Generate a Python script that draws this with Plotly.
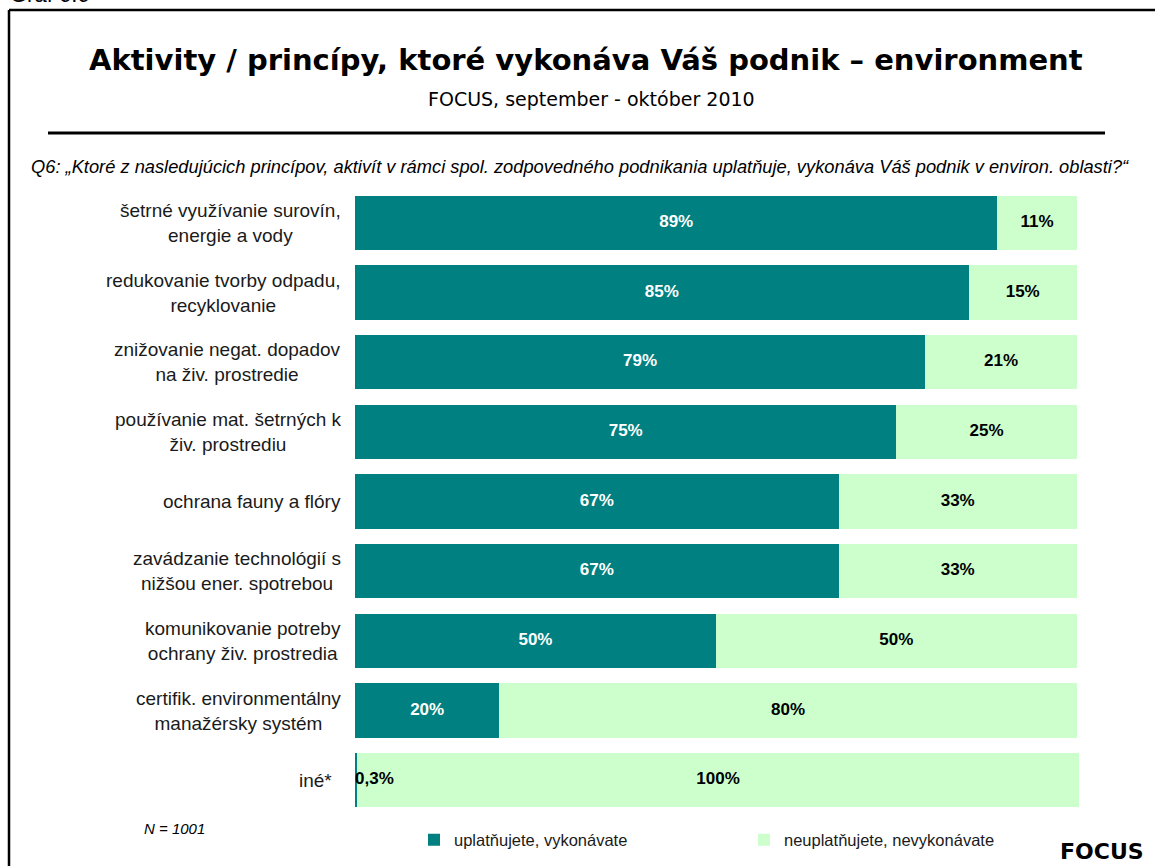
import plotly.graph_objects as go

categories = [
    "šetrné využívanie surovín,<br>energie a vody",
    "redukovanie tvorby odpadu,<br>recyklovanie",
    "znižovanie negat. dopadov<br>na živ. prostredie",
    "používanie mat. šetrných k<br>živ. prostrediu",
    "ochrana fauny a flóry",
    "zavádzanie technológií s<br>nižšou ener. spotrebou",
    "komunikovanie potreby<br>ochrany živ. prostredia",
    "certifik. environmentálny<br>manažérsky systém",
    "iné*",
]
yes_vals = [89, 85, 79, 75, 67, 67, 50, 20, 0.3]
no_vals = [11, 15, 21, 25, 33, 33, 50, 80, 100]
yes_labels = ["89%", "85%", "79%", "75%", "67%", "67%", "50%", "20%", "0,3%"]
no_labels = ["11%", "15%", "21%", "25%", "33%", "33%", "50%", "80%", "100%"]
series_names = ["uplatňujete, vykonávate", "neuplatňujete, nevykonávate"]

TEAL = "#008080"
LIGHT = "#CCFFCC"
W, H = 1155, 866
L, R = 355, 1079
T, B = 188, 815

def px_x(p):
    return (p - L) / (R - L)

def px_y(p):
    return (B - p) / (B - T)

fig = go.Figure()
fig.add_trace(go.Bar(y=categories, x=yes_vals, orientation="h", name=series_names[0],
                     marker=dict(color=TEAL, line=dict(width=0)), width=0.78, hoverinfo="x+y"))
fig.add_trace(go.Bar(y=categories, x=no_vals, orientation="h", name=series_names[1],
                     marker=dict(color=LIGHT, line=dict(width=0)), width=0.78, hoverinfo="x+y"))

# value labels
yes_x, yes_pos = [], []
for v in yes_vals:
    if v < 3:
        yes_x.append(0)
        yes_pos.append("middle right")
    else:
        yes_x.append(v / 2)
        yes_pos.append("middle center")
yes_colors = ["white" if v >= 3 else "black" for v in yes_vals]
fig.add_trace(go.Scatter(y=categories, x=yes_x, mode="text",
                         text=["<b>" + t + "</b>" for t in yes_labels],
                         textposition=yes_pos, showlegend=False, hoverinfo="skip",
                         textfont=dict(family="Liberation Sans", size=17, color=yes_colors),
                         cliponaxis=False))
no_x = [y + n / 2 for y, n in zip(yes_vals, no_vals)]
fig.add_trace(go.Scatter(y=categories, x=no_x, mode="text",
                         text=["<b>" + t + "</b>" for t in no_labels],
                         textposition="middle center", showlegend=False, hoverinfo="skip",
                         textfont=dict(family="Liberation Sans", size=17, color="black"),
                         cliponaxis=False))

annotations = []
for c in categories:
    annotations.append(dict(xref="paper", yref="y", x=0, y=c, xanchor="right",
                            xshift=-21 if c == "iné*" else -12,
                            text=c, showarrow=False, align="center",
                            font=dict(family="Liberation Sans", size=19, color="#1a1a1a")))

annotations += [
    dict(xref="paper", yref="paper", x=px_x(586), y=px_y(60), xanchor="center", yanchor="middle",
         text="<b>Aktivity / princípy, ktoré vykonáva Váš podnik – environment</b>", showarrow=False,
         font=dict(family="DejaVu Sans", size=29, color="black")),
    dict(xref="paper", yref="paper", x=px_x(591), y=px_y(99), xanchor="center", yanchor="middle",
         text="FOCUS, september - október 2010", showarrow=False,
         font=dict(family="DejaVu Sans", size=19, color="black")),
    dict(xref="paper", yref="paper", x=px_x(29), y=px_y(167), xanchor="left", yanchor="middle",
         text="<i>Q6: „Ktoré z nasledujúcich princípov, aktivít v rámci spol. zodpovedného podnikania uplatňuje, vykonáva Váš podnik v environ. oblasti?“</i>",
         showarrow=False, font=dict(family="Liberation Sans", size=18.3, color="black")),
    dict(xref="paper", yref="paper", x=px_x(142), y=px_y(828), xanchor="left", yanchor="middle",
         text="<i>N = 1001</i>", showarrow=False,
         font=dict(family="Liberation Sans", size=15, color="black")),
    dict(xref="paper", yref="paper", x=px_x(1146), y=px_y(852), xanchor="right", yanchor="middle",
         text="<b>FOCUS</b>", showarrow=False,
         font=dict(family="DejaVu Sans", size=22, color="black")),
    dict(xref="paper", yref="paper", x=px_x(8), y=px_y(9), xanchor="left", yanchor="bottom",
         text="Graf 6.6", showarrow=False,
         font=dict(family="Liberation Sans", size=22, color="black")),
]

shapes = [
    dict(type="line", xref="paper", yref="paper", x0=px_x(48), x1=px_x(1105), y0=px_y(133), y1=px_y(133),
         line=dict(color="black", width=3)),
    dict(type="line", xref="paper", yref="paper", x0=px_x(9), x1=px_x(1160), y0=px_y(10), y1=px_y(10),
         line=dict(color="black", width=2.5)),
    dict(type="line", xref="paper", yref="paper", x0=px_x(9), x1=px_x(9), y0=px_y(10), y1=px_y(870),
         line=dict(color="black", width=2.5)),
]

fig.update_layout(
    width=W, height=H,
    margin=dict(l=L, r=W - R, t=T, b=H - B, autoexpand=False),
    barmode="stack",
    plot_bgcolor="white", paper_bgcolor="white",
    xaxis=dict(range=[0, 100.3], visible=False, fixedrange=True),
    yaxis=dict(autorange="reversed", showticklabels=False, showgrid=False, zeroline=False,
               showline=False, ticks=""),
    legend=dict(orientation="h", x=px_x(414), y=px_y(840), xanchor="left", yanchor="middle",
                entrywidth=285, entrywidthmode="pixels", traceorder="normal",
                font=dict(family="Liberation Sans", size=16.5, color="#1a1a1a"),
                bgcolor="rgba(0,0,0,0)"),
    annotations=annotations,
    shapes=shapes,
    showlegend=True,
)

fig.write_html("out.html", config={"displayModeBar": False},
               post_script="document.body.style.margin='0';document.body.style.overflow='hidden';")
